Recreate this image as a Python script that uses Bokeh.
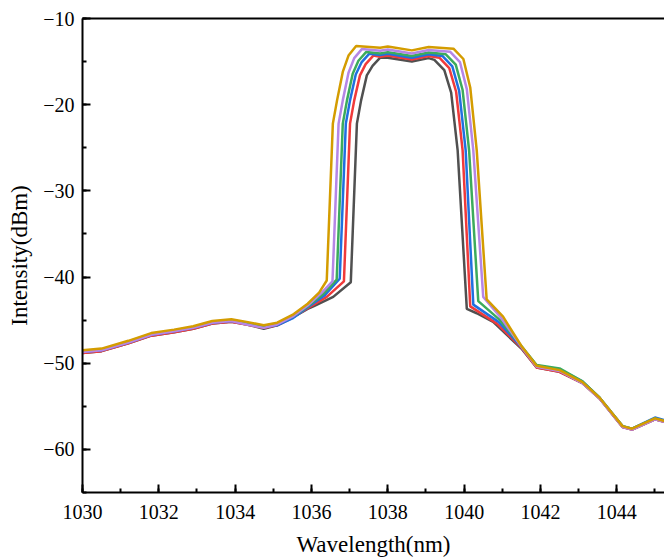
from bokeh.plotting import figure
from bokeh.models import LinearAxis, SingleIntervalTicker, FixedTicker, Range1d
from bokeh.embed import file_html
from bokeh.resources import INLINE

# ---- data ----
wing_x = [1030.0, 1030.5, 1031.2, 1031.8, 1032.4, 1032.9, 1033.4, 1033.9, 1034.3, 1034.75, 1035.1, 1035.5, 1035.9]
right_x = [1041.5, 1041.9, 1042.5, 1043.1, 1043.55, 1044.15, 1044.4, 1045.0, 1045.25]

gold_x = wing_x + [1036.2, 1036.4, 1036.56, 1036.67, 1036.82, 1036.97, 1037.17, 1037.8, 1038.0, 1038.63, 1039.07,
                   1039.72, 1039.98, 1040.16, 1040.33, 1040.59, 1041.02] + right_x
gold_y = [-48.5, -48.3, -47.4, -46.5, -46.1, -45.7, -45.1, -44.9, -45.2, -45.6, -45.3, -44.4, -43.1,
          -41.8, -40.4, -22.2, -19.5, -16.2, -14.3, -13.2, -13.4, -13.25, -13.7, -13.3,
          -13.5, -14.7, -18.0, -25.3, -42.6, -44.6,
          -48.0, -50.3, -50.8, -52.2, -54.0, -57.3, -57.6, -56.4, -56.7]

purple_x = wing_x + [1036.25, 1036.55, 1036.71, 1036.82, 1036.97, 1037.12, 1037.32, 1037.8, 1038.0, 1038.63, 1039.07,
                     1039.63, 1039.89, 1040.07, 1040.24, 1040.5, 1040.98] + right_x
purple_y = [-48.7, -48.5, -47.6, -46.7, -46.3, -45.9, -45.3, -45.1, -45.5, -45.9, -45.5, -44.6, -43.3,
            -41.9, -40.5, -22.2, -19.5, -16.3, -14.6, -13.55, -13.75, -13.6, -14.05, -13.65,
            -13.85, -15.05, -18.2, -25.3, -42.3, -44.8,
            -48.1, -50.4, -50.9, -52.3, -54.1, -57.4, -57.7, -56.5, -56.8]

green_x = wing_x + [1036.3, 1036.66, 1036.82, 1036.93, 1037.08, 1037.23, 1037.43, 1037.8, 1038.0, 1038.63, 1039.07,
                    1039.52, 1039.78, 1039.96, 1040.13, 1040.37, 1040.94] + right_x
green_y = [-48.6, -48.4, -47.5, -46.6, -46.2, -45.8, -45.2, -45.0, -45.3, -45.7, -45.4, -44.6, -43.4,
           -42.0, -40.3, -22.2, -19.5, -16.4, -14.9, -13.9, -14.05, -13.9, -14.35, -13.95,
           -14.15, -15.35, -18.3, -25.3, -42.8, -45.0,
           -48.0, -50.2, -50.6, -52.1, -54.0, -57.3, -57.6, -56.4, -56.7]

blue_x = wing_x + [1036.35, 1036.74, 1036.9, 1037.01, 1037.16, 1037.31, 1037.51, 1037.8, 1038.0, 1038.63, 1039.07,
                   1039.43, 1039.69, 1039.87, 1040.04, 1040.24, 1040.9] + right_x
blue_y = [-48.7, -48.5, -47.6, -46.7, -46.3, -45.9, -45.3, -45.1, -45.4, -45.8, -45.6, -44.8, -43.5,
          -42.1, -40.2, -22.2, -19.5, -16.5, -15.1, -14.1, -14.25, -14.1, -14.55, -14.15,
          -14.35, -15.55, -18.4, -25.3, -43.2, -45.2,
          -48.1, -50.3, -50.7, -52.1, -54.0, -57.3, -57.6, -56.3, -56.6]

red_x = wing_x + [1036.4, 1036.85, 1037.01, 1037.12, 1037.27, 1037.42, 1037.62, 1037.8, 1038.0, 1038.63, 1039.07,
                  1039.35, 1039.61, 1039.79, 1039.96, 1040.16, 1040.86] + right_x
red_y = [-48.8, -48.6, -47.7, -46.8, -46.4, -46.0, -45.4, -45.2, -45.5, -45.9, -45.6, -44.7, -43.6,
         -42.3, -40.5, -22.2, -19.5, -16.6, -15.3, -14.3, -14.45, -14.3, -14.75, -14.35,
         -14.55, -15.75, -18.5, -25.3, -43.4, -45.4,
         -48.2, -50.5, -51.0, -52.3, -54.1, -57.4, -57.7, -56.5, -56.8]

gray_x = wing_x + [1036.05, 1036.57, 1037.03, 1037.19, 1037.3, 1037.45, 1037.6, 1037.8, 1038.0, 1038.63, 1039.07,
                   1039.22, 1039.48, 1039.66, 1039.83, 1040.07, 1040.33, 1040.76] + right_x
gray_y = [-48.8, -48.6, -47.7, -46.8, -46.4, -46.0, -45.4, -45.2, -45.5, -46.0, -45.6, -44.7, -43.7,
          -43.4, -42.3, -40.6, -22.2, -19.5, -16.6, -15.5, -14.55, -14.55, -15.0, -14.6,
          -14.8, -16.0, -18.6, -25.3, -43.7, -44.2, -45.2,
          -48.3, -50.5, -51.0, -52.3, -54.1, -57.4, -57.7, -56.5, -56.8]

series = [
    (gray_x, gray_y, "#505050"),
    (red_x, red_y, "#f03a3a"),
    (blue_x, blue_y, "#2070e0"),
    (green_x, green_y, "#3cab5c"),
    (purple_x, purple_y, "#b586e6"),
    (gold_x, gold_y, "#d49c00"),
]

x_ticks = [1030, 1032, 1034, 1036, 1038, 1040, 1042, 1044]
y_ticks = [-60, -50, -40, -30, -20, -10]
y_tick_labels = ["\u221260", "\u221250", "\u221240", "\u221230", "\u221220", "\u221210"]

FONT = "Liberation Serif"

p = figure(width=664, height=559, output_backend="svg", toolbar_location=None,
           x_range=Range1d(1030, 1045.25), y_range=Range1d(-65, -10),
           min_border_left=82, min_border_right=0, min_border_top=18, min_border_bottom=67,
           background_fill_color="white", border_fill_color="white")
p.outline_line_color = None
p.grid.visible = False

for xs, ys, c in series:
    p.line(xs, ys, line_color=c, line_width=2.5)

for ax in (p.xaxis[0], p.yaxis[0]):
    ax.axis_line_width = 2
    ax.axis_line_color = "black"
    ax.major_tick_line_width = 2
    ax.minor_tick_line_width = 2
    ax.major_tick_in = 8
    ax.major_tick_out = 0
    ax.minor_tick_in = 4
    ax.minor_tick_out = 0
    ax.major_label_text_font = FONT
    ax.major_label_text_font_size = "20px"
    ax.major_label_text_color = "black"
    ax.axis_label_text_font = FONT
    ax.axis_label_text_font_size = "23px"
    ax.axis_label_text_font_style = "normal"
    ax.axis_label_text_color = "black"

p.xaxis.ticker = SingleIntervalTicker(interval=2, num_minor_ticks=2)
p.yaxis.ticker = SingleIntervalTicker(interval=10, num_minor_ticks=2)
p.yaxis.major_label_overrides = {v: s for v, s in zip(y_ticks, y_tick_labels)}
p.xaxis.axis_label = "Wavelength(nm)"
p.yaxis.axis_label = "Intensity(dBm)"
p.xaxis.major_label_standoff = 12
p.yaxis.major_label_standoff = 8
p.xaxis.axis_label_standoff = 10
p.yaxis.axis_label_standoff = 8

top = LinearAxis(ticker=FixedTicker(ticks=[]),
                 axis_line_width=2, axis_line_color="black",
                 major_tick_in=0, major_tick_out=0, minor_tick_in=0, minor_tick_out=0,
                 major_label_standoff=0)
p.add_layout(top, "above")

open("out.html", "w").write(file_html(p, INLINE))
